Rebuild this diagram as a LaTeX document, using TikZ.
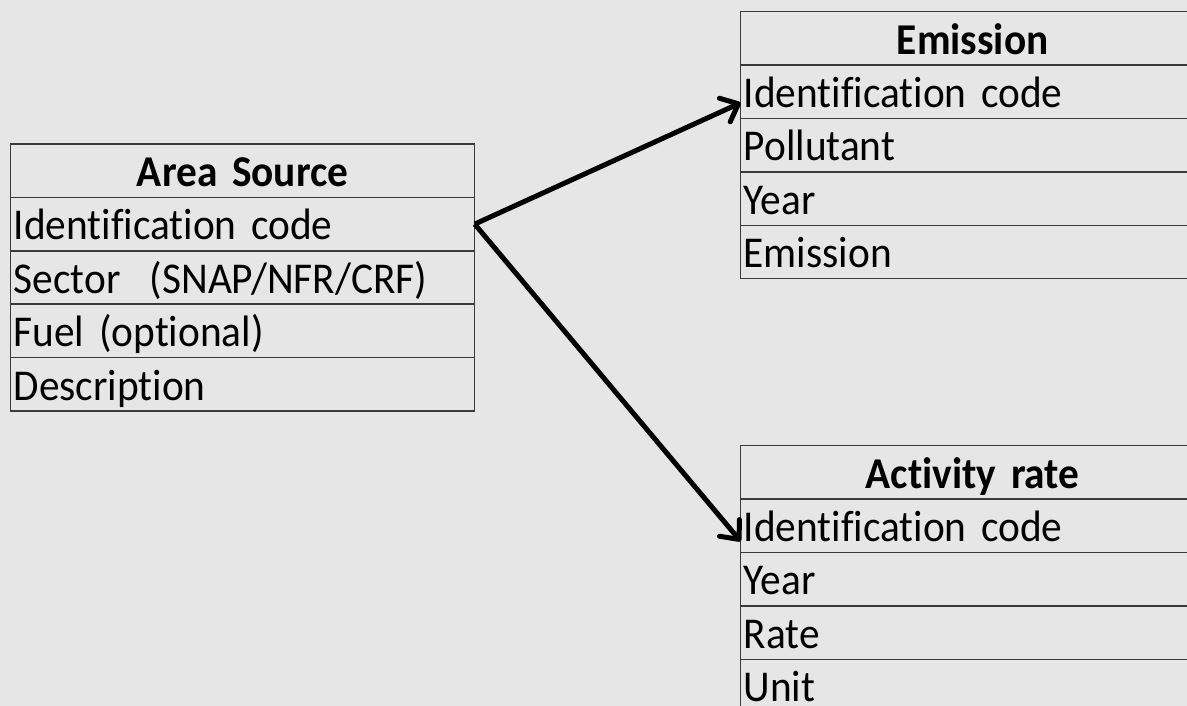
\documentclass[tikz,border=0pt]{standalone}
\usepackage{fontspec}
\setmainfont{Carlito}[RawFeature=-liga, FakeStretch=0.94]
\usetikzlibrary{arrows.meta,positioning}
\definecolor{bg}{HTML}{E6E6E6}
\definecolor{rule}{HTML}{3A3A3A}
\tikzset{
  cell/.style={draw=rule, line width=1.5pt, outer sep=0pt, inner xsep=3pt, inner ysep=0pt,
    text width=458pt, text height=42.4pt, text depth=11pt, align=left,
    font=\fontsize{44}{44}\selectfont},
  headcell/.style={cell, align=center, font=\fontsize{44}{44}\selectfont\bfseries},
  link/.style={line width=5pt, -{Straight Barb[length=15pt,width=26pt,round]}}
}
\begin{document}
\begin{tikzpicture}[x=1pt,y=-1pt]
\fill[bg] (0,0) rectangle (1187,706);
\useasboundingbox (0,0) rectangle (1187,706);
% Area Source
\node[headcell, anchor=north west] (as0) at (10.7,144) {Area Source};
\node[cell, anchor=north] (as1) at (as0.south) {Identification code};
\node[cell, anchor=north] (as2) at (as1.south) {Sector\ \ (SNAP/NFR/CRF)};
\node[cell, anchor=north] (as3) at (as2.south) {Fuel (optional)};
\node[cell, anchor=north] (as4) at (as3.south) {Description};
% Emission
\node[headcell, anchor=north west] (em0) at (740.7,11.7) {Emission};
\node[cell, anchor=north] (em1) at (em0.south) {Identification code};
\node[cell, anchor=north] (em2) at (em1.south) {Pollutant};
\node[cell, anchor=north] (em3) at (em2.south) {Year};
\node[cell, anchor=north] (em4) at (em3.south) {Emission};
% Activity rate
\node[headcell, anchor=north west] (ar0) at (740.7,445.7) {Activity rate};
\node[cell, anchor=north] (ar1) at (ar0.south) {Identification code};
\node[cell, anchor=north] (ar2) at (ar1.south) {Year};
\node[cell, anchor=north] (ar3) at (ar2.south) {Rate};
\node[cell, anchor=north] (ar4) at (ar3.south) {Unit};
% links
\draw[link] (as1.east) -- ([yshift=-11pt]em1.west);
\draw[link] (as1.east) -- ([yshift=-15.5pt]ar1.west);
\end{tikzpicture}
\end{document}
